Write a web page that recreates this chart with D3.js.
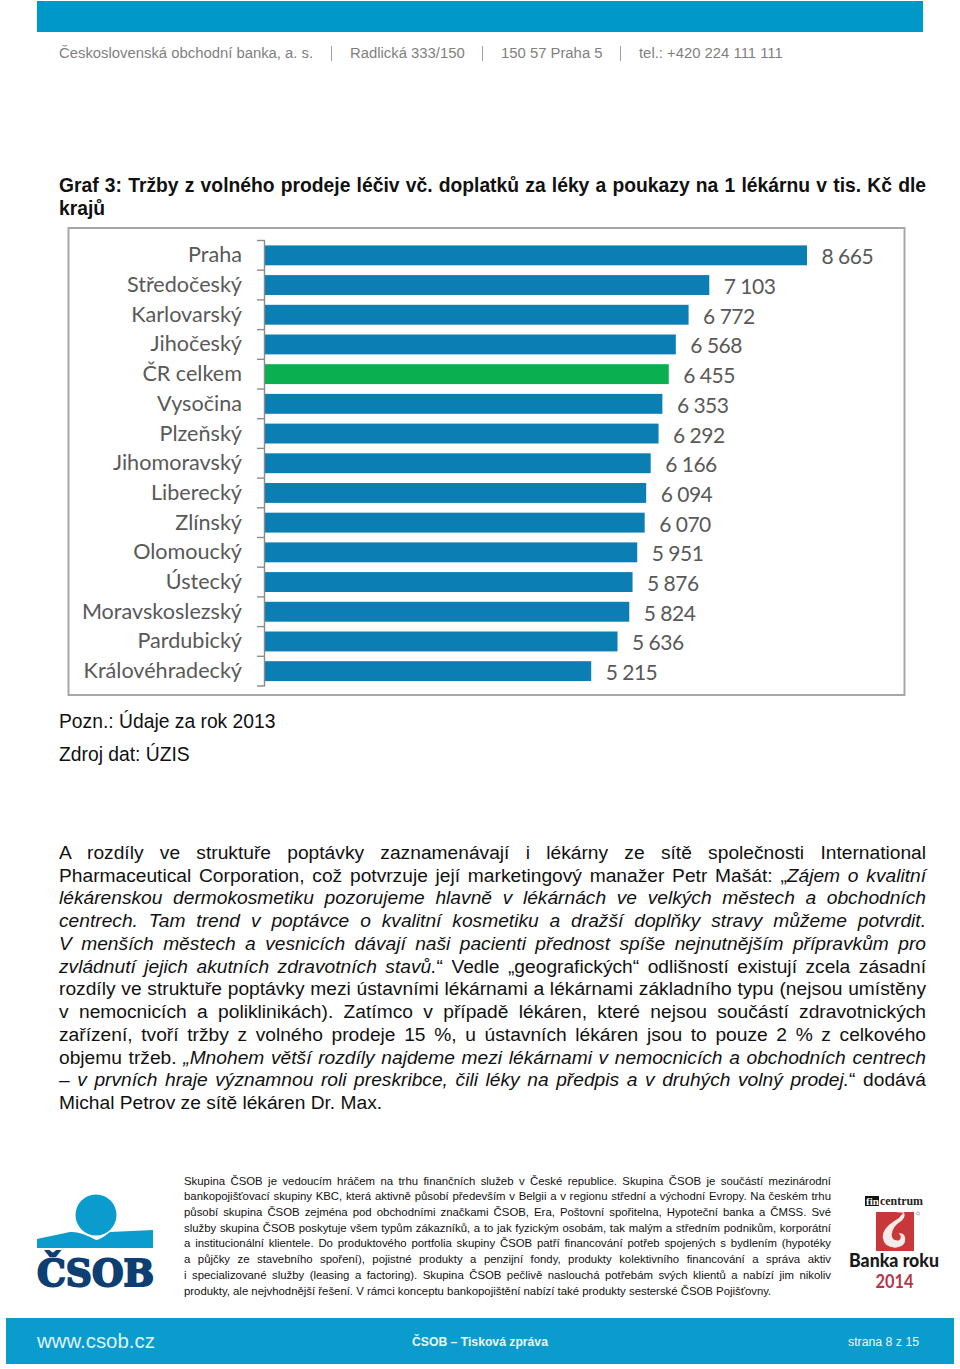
<!DOCTYPE html>
<html lang="cs"><head><meta charset="utf-8">
<script src="https://cdn.jsdelivr.net/npm/d3@7/dist/d3.min.js"></script>
<style>
html,body{margin:0;padding:0;background:#fff;}
body{width:960px;height:1369px;position:relative;overflow:hidden;font-family:"Liberation Sans",Arial,sans-serif;}
svg{position:absolute;left:0;top:0;}
.t{position:absolute;white-space:nowrap;color:#111;}
.j{text-align:justify;text-align-last:justify;white-space:normal;}
.j span{white-space:pre-wrap;}
</style></head><body>
<svg id="chart" width="960" height="1369"></svg>
<div id="txt"></div>
<script>
const categories = ["Praha","Středočeský","Karlovarský","Jihočeský","ČR celkem","Vysočina","Plzeňský","Jihomoravský","Liberecký","Zlínský","Olomoucký","Ústecký","Moravskoslezský","Pardubický","Královéhradecký"];
const values = [8665,7103,6772,6568,6455,6353,6292,6166,6094,6070,5951,5876,5824,5636,5215];
const highlightCategory = "ČR celkem";
const headerParts = ["Československá obchodní banka, a. s.","Radlická 333/150","150 57 Praha 5","tel.: +420 224 111 111"];
const titleLines = ["Graf 3: Tržby z volného prodeje léčiv vč. doplatků za léky a poukazy na 1 lékárnu v tis. Kč dle","krajů"];
const noteLines = ["Pozn.: Údaje za rok 2013","Zdroj dat: ÚZIS"];
// '|' toggles between upright and italic
const bodyLines = [
"A rozdíly ve struktuře poptávky zaznamenávají i lékárny ze sítě společnosti International",
"Pharmaceutical Corporation, což potvrzuje její marketingový manažer Petr Mašát: „|Zájem o kvalitní",
"|lékárenskou dermokosmetiku pozorujeme hlavně v lékárnách ve velkých městech a obchodních",
"|centrech. Tam trend v poptávce o kvalitní kosmetiku a dražší doplňky stravy můžeme potvrdit.",
"|V menších městech a vesnicích dávají naši pacienti přednost spíše nejnutnějším přípravkům pro",
"|zvládnutí jejich akutních zdravotních stavů.|“ Vedle „geografických“ odlišností existují zcela zásadní",
"rozdíly ve struktuře poptávky mezi ústavními lékárnami a lékárnami základního typu (nejsou umístěny",
"v nemocnicích a poliklinikách). Zatímco v případě lékáren, které nejsou součástí zdravotnických",
"zařízení, tvoří tržby z volného prodeje 15 %, u ústavních lékáren jsou to pouze 2 % z celkového",
"objemu tržeb. |„Mnohem větší rozdíly najdeme mezi lékárnami v nemocnicích a obchodních centrech",
"|– v prvních hraje významnou roli preskribce, čili léky na předpis a v druhých volný prodej.|“ dodává",
"Michal Petrov ze sítě lékáren Dr. Max."];
const footLines = [
"Skupina ČSOB je vedoucím hráčem na trhu finančních služeb v České republice. Skupina ČSOB je součástí mezinárodní",
"bankopojišťovací skupiny KBC, která aktivně působí především v Belgii a v regionu střední a východní Evropy. Na českém trhu",
"působí skupina ČSOB zejména pod obchodními značkami ČSOB, Era, Poštovní spořitelna, Hypoteční banka a ČMSS. Své",
"služby skupina ČSOB poskytuje všem typům zákazníků, a to jak fyzickým osobám, tak malým a středním podnikům, korporátní",
"a institucionální klientele. Do produktového portfolia skupiny ČSOB patří financování potřeb spojených s bydlením (hypotéky",
"a půjčky ze stavebního spoření), pojistné produkty a penzijní fondy, produkty kolektivního financování a správa aktiv",
"i specializované služby (leasing a factoring). Skupina ČSOB pečlivě naslouchá potřebám svých klientů a nabízí jim nikoliv",
"produkty, ale nejvhodnější řešení. V rámci konceptu bankopojištění nabízí také produkty sesterské ČSOB Pojišťovny."];

const svg = d3.select("#chart");
const txt = d3.select("#txt");

// page bands
svg.append("rect").attr("x",37).attr("y",1).attr("width",886).attr("height",31).attr("fill","#0097c9");
svg.append("rect").attr("x",6).attr("y",1318).attr("width",948).attr("height",46).attr("fill","#0a9ccd");

// header text
const hdr = [59,350,501,639], seps=[331,482,620];
headerParts.forEach((s,i)=>svg.append("text").attr("x",hdr[i]).attr("y",58).attr("font-size",14.85).attr("fill","#7f7f7f").text(s));
seps.forEach(x=>svg.append("line").attr("x1",x+.5).attr("x2",x+.5).attr("y1",46).attr("y2",61).attr("stroke","#a0a0a0"));

// title
txt.append("div").attr("class","t j").style("left","59px").style("top","174.5px").style("width","867px").style("font","bold 19.3px 'Liberation Sans'").text(titleLines[0]);
txt.append("div").attr("class","t").style("left","59px").style("top","197.5px").style("font","bold 19.3px 'Liberation Sans'").text(titleLines[1]);

// chart frame
svg.append("rect").attr("x",68.5).attr("y",228).attr("width",836).attr("height",467).attr("fill","#fff").attr("stroke","#a6a6a6").attr("stroke-width",2);

const x = d3.scaleLinear().domain([0,8665]).range([265,807]);
const y = d3.scaleBand().domain(categories).range([240.5,686]).paddingInner(0.33).paddingOuter(0.165);

const g = svg.append("g");
g.selectAll("rect.bar").data(categories).join("rect").attr("class","bar")
 .attr("x",x(0)).attr("y",d=>y(d)).attr("height",y.bandwidth())
 .attr("width",(d,i)=>x(values[i])-x(0))
 .attr("fill",d=>d===highlightCategory?"#0aaf4f":"#0b7fb3");

// axis with ticks between the categories
const gap = y.step()*y.paddingInner()/2;
const tickYs = categories.map(d=>y(d)-gap).concat([y(categories[categories.length-1])+y.bandwidth()+gap]);
g.append("line").attr("x1",264.5).attr("x2",264.5).attr("y1",tickYs[0]).attr("y2",tickYs[15]).attr("stroke","#8c8c8c").attr("stroke-width",1.4);
g.selectAll("line.tick").data(tickYs).join("line").attr("class","tick")
 .attr("x1",257).attr("x2",265).attr("y1",d=>d).attr("y2",d=>d).attr("stroke","#8c8c8c").attr("stroke-width",1.4);

const labFont = "Lato, 'Open Sans', sans-serif";
g.selectAll("text.cat").data(categories).join("text").attr("class","cat")
 .attr("x",242).attr("y",d=>y(d)+y.bandwidth()/2+7).attr("text-anchor","end")
 .attr("font-family",labFont).attr("font-size",21.6).attr("fill","#595959").text(d=>d);
const fmt = v=>{const s=String(v);return s.slice(0,-3)+" "+s.slice(-3);};
g.selectAll("text.val").data(values).join("text").attr("class","val")
 .attr("x",d=>x(d)+14.5).attr("y",(d,i)=>y(categories[i])+y.bandwidth()/2+9).attr("text-anchor","start")
 .attr("font-family",labFont).attr("font-size",21).attr("letter-spacing",-0.5).attr("fill","#595959").text(fmt);

// notes
noteLines.forEach((s,i)=>svg.append("text").attr("x",59).attr("y",[727.5,761][i]).attr("font-size",19.3).attr("fill","#111").text(s));

// body text
const line=(sel,s,left,top,w,fs,just)=>{
  const d=sel.append("div").attr("class","t"+(just?" j":"")).style("left",left+"px").style("top",top+"px").style("font-size",fs+"px");
  if(just)d.style("width",w+"px");
  s.split("|").forEach((p,i)=>{ if(p) d.append("span").style("font-style",i%2?"italic":"normal").text(p); });
};
bodyLines.forEach((s,i)=>line(txt,s,59,842+i*22.73,867,19.2,i<11));
footLines.forEach((s,i)=>line(txt,s,184,1174.5+i*15.72,647,11.36,i<7));

// footer band text
svg.append("text").attr("x",37).attr("y",1348).attr("font-size",20.4).attr("fill","#dff3fa").text("www.csob.cz");
svg.append("text").attr("x",412).attr("y",1346).attr("font-size",12.2).attr("font-weight","bold").attr("fill","#eaf7fc").text("ČSOB – Tisková zpráva");
svg.append("text").attr("x",848).attr("y",1346).attr("font-size",12.3).attr("fill","#eaf7fc").text("strana 8 z 15");

// ČSOB logo
const logo=svg.append("g");
logo.append("path").attr("d","M37 1239 L70 1232 Q80 1231 96 1240 Q100 1240 110 1232 L153 1230 L153 1248 L37 1248 Z").attr("fill","#0a9ccd");
logo.append("circle").attr("cx",96).attr("cy",1215).attr("r",20.5).attr("fill","#0a9ccd");
logo.append("text").attr("x",37).attr("y",1286).attr("textLength",117).attr("lengthAdjust","spacingAndGlyphs")
 .attr("font-family","'DejaVu Serif'").attr("font-weight","bold").attr("font-size",38).attr("fill","#0d3f72").attr("stroke","#0d3f72").attr("stroke-width",2).text("ČSOB");

// Banka roku logo
const br=svg.append("g");
br.append("rect").attr("x",865).attr("y",1196).attr("width",14).attr("height",10).attr("fill","#111");
br.append("text").attr("x",866).attr("y",1204.5).attr("font-family","'Liberation Serif'").attr("font-weight","bold").attr("font-size",11).attr("fill","#fff").text("fin");
br.append("text").attr("x",880).attr("y",1204.5).attr("textLength",43).attr("lengthAdjust","spacingAndGlyphs").attr("font-family","'Liberation Serif'").attr("font-weight","bold").attr("font-size",11.5).attr("fill","#222").text("centrum");
br.append("rect").attr("x",876).attr("y",1212).attr("width",38).attr("height",39).attr("fill","#c8373a");
br.append("path").attr("transform","translate(840,1190) scale(0.3333)")
 .attr("d","M165 66 L190 68 Q180 84 162 94 Q128 115 128 142 Q132 172 165 173 Q200 170 195 142 Q192 128 176 130 Q188 140 178 151 Q155 155 155 132 Q158 108 185 92 Q200 78 190 65 Z").attr("fill","#f5ecea");
br.append("circle").attr("cx",918).attr("cy",1213.5).attr("r",1.5).attr("fill","none").attr("stroke","#999").attr("stroke-width",.7);
br.append("text").attr("x",849).attr("y",1266.5).attr("textLength",90).attr("lengthAdjust","spacingAndGlyphs").attr("font-family","Lato").attr("font-weight","900").attr("font-size",19).attr("fill","#1a1a1a").text("Banka roku");
br.append("text").attr("x",875.5).attr("y",1287.5).attr("textLength",38).attr("lengthAdjust","spacingAndGlyphs").attr("font-family","Lato").attr("font-weight","bold").attr("font-size",18.5).attr("fill","#b5354a").text("2014");
</script>
</body></html>
